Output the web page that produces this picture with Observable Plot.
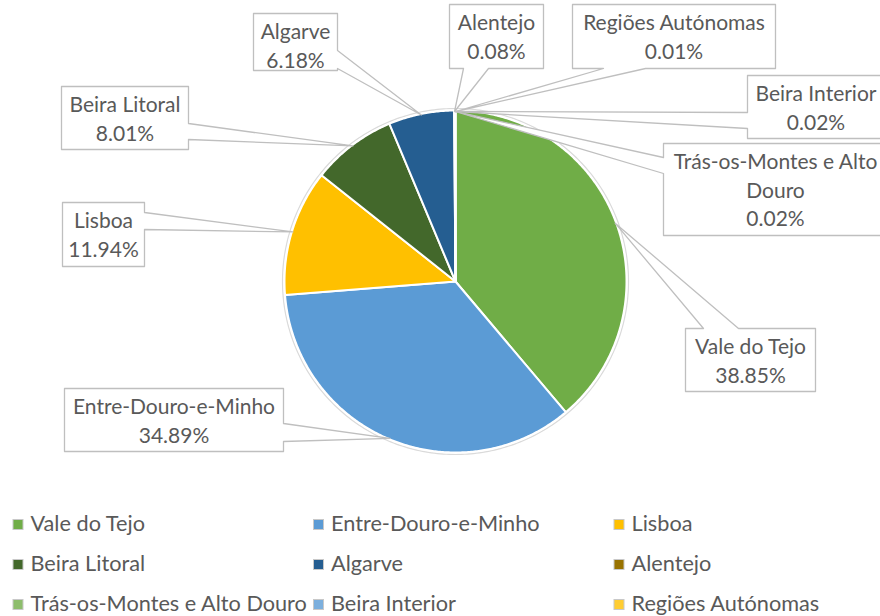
<!DOCTYPE html>
<html><head><meta charset="utf-8">
<script src="https://cdn.jsdelivr.net/npm/d3@7"></script>
<script src="https://cdn.jsdelivr.net/npm/@observablehq/plot@0.6"></script>
<style>html,body{margin:0;padding:0;background:#fff;overflow:hidden} svg{display:block}</style>
</head><body><div id="chart"></div>
<script>
// ---- data ----
const regions = ["Vale do Tejo","Entre-Douro-e-Minho","Lisboa","Beira Litoral","Algarve","Alentejo","Trás-os-Montes e Alto Douro","Beira Interior","Regiões Autónomas"];
const shares = [38.85,34.89,11.94,8.01,6.18,0.08,0.02,0.02,0.01];
const colors = ["#70AD47","#5B9BD5","#FFC000","#43682B","#255E91","#997300","#8DBD6C","#7CAFDD","#FFCD33"];

// ---- layout (positions only) ----
const W = 880, H = 616, CX = 455, CY = 281, R = 171;
const callouts = [
  {box:[685,328,815,391], side:"top",    base:[703,738]},
  {box:[64,388,283,451],  side:"right",  base:[423,441]},
  {box:[62,202,144,266],  side:"right",  base:[212,229]},
  {box:[61,86,188,149],   side:"right",  base:[123,139]},
  {box:[253,13,337,70],   side:"right",  base:[50,68]},
  {box:[449,4,543,68],    side:"bottom", base:[463,488]},
  {box:[663,143,887,235], side:"left",   base:[157,173], wrap:3},
  {box:[747,75,884,138],  side:"left",   base:[112,128]},
  {box:[572,4,775,68],    side:"bottom", base:[603,645]}
];
const FONT = "Lato, 'Open Sans', sans-serif";
const TXT = "#595959";

// ---- pie geometry from data ----
const arcs = d3.pie().sort(null).value(d => d)(shares);
const pt = (a, r) => ({x: CX + r * Math.sin(a), y: CY - r * Math.cos(a)});
const slicePts = [];
arcs.forEach((a, i) => {
  const name = regions[i];
  slicePts.push({name, ...pt(0, 0)});
  const n = Math.max(2, Math.ceil((a.endAngle - a.startAngle) / (Math.PI / 360)));
  for (let k = 0; k <= n; k++) {
    const ang = a.startAngle + (a.endAngle - a.startAngle) * k / n;
    slicePts.push({name, ...pt(ang, R)});
  }
});
const ring = d3.range(0, 361).map(k => pt(k * Math.PI / 180, R + 2));

// ---- callouts ----
const calloutPts = [];
const labelLines = [];
callouts.forEach((c, i) => {
  const name = regions[i];
  const mid = (arcs[i].startAngle + arcs[i].endAngle) / 2;
  const tip = pt(mid, R - 1);
  const [x1, y1, x2, y2] = c.box;
  const [a, b] = c.base;
  let poly = [];
  poly.push([x1, y1]);
  if (c.side === "top") poly.push([a, y1], [tip.x, tip.y], [b, y1]);
  poly.push([x2, y1]);
  if (c.side === "right") poly.push([x2, a], [tip.x, tip.y], [x2, b]);
  poly.push([x2, y2]);
  if (c.side === "bottom") poly.push([b, y2], [tip.x, tip.y], [a, y2]);
  poly.push([x1, y2]);
  if (c.side === "left") poly.push([x1, b], [tip.x, tip.y], [x1, a]);
  poly.forEach(([x, y]) => calloutPts.push({name, x, y}));
  const words = name.split(" ");
  const lines = c.wrap ? [words.slice(0, c.wrap).join(" "), words.slice(c.wrap).join(" ")] : [name];
  lines.push(shares[i].toFixed(2) + "%");
  lines.forEach((t, j) => labelLines.push({t, x: (x1 + x2) / 2, y: y1 + 25.5 + j * 28.5}));
});

// ---- legend ----
const legend = regions.map((name, i) => {
  const col = i % 3, row = Math.floor(i / 3);
  const x = 13 + col * 300.5, y = 519.5 + row * 40;
  return {name, x1: x, x2: x + 10, y1: y, y2: y + 10, tx: x + 17, ty: y + 11};
});

const chart = Plot.plot({
  width: W, height: H, margin: 0,
  x: {domain: [0, W], range: [0, W], axis: null},
  y: {domain: [0, H], range: [0, H], axis: null},
  color: {domain: regions, range: colors},
  style: {fontFamily: FONT, background: "white"},
  marks: [
    Plot.line(ring, {x: "x", y: "y", stroke: "#DADADA", strokeWidth: 1.2}),
    Plot.line(slicePts, {x: "x", y: "y", z: "name", fill: "name", stroke: "white", strokeWidth: 2, curve: "linear-closed"}),
    Plot.line(calloutPts, {x: "x", y: "y", z: "name", fill: "white", stroke: "#BFBFBF", strokeWidth: 1.3, curve: "linear-closed"}),
    Plot.text(labelLines, {x: "x", y: "y", text: "t", fill: TXT, fontSize: 21, textAnchor: "middle", lineAnchor: "bottom"}),
    Plot.rect(legend, {x1: "x1", x2: "x2", y1: "y1", y2: "y2", fill: "name", stroke: "#C8C8C8", strokeWidth: 1}),
    Plot.text(legend, {x: "tx", y: "ty", text: "name", fill: TXT, fontSize: 21.7, textAnchor: "start", lineAnchor: "bottom"})
  ]
});
document.getElementById("chart").append(chart);
</script>
</body></html>
